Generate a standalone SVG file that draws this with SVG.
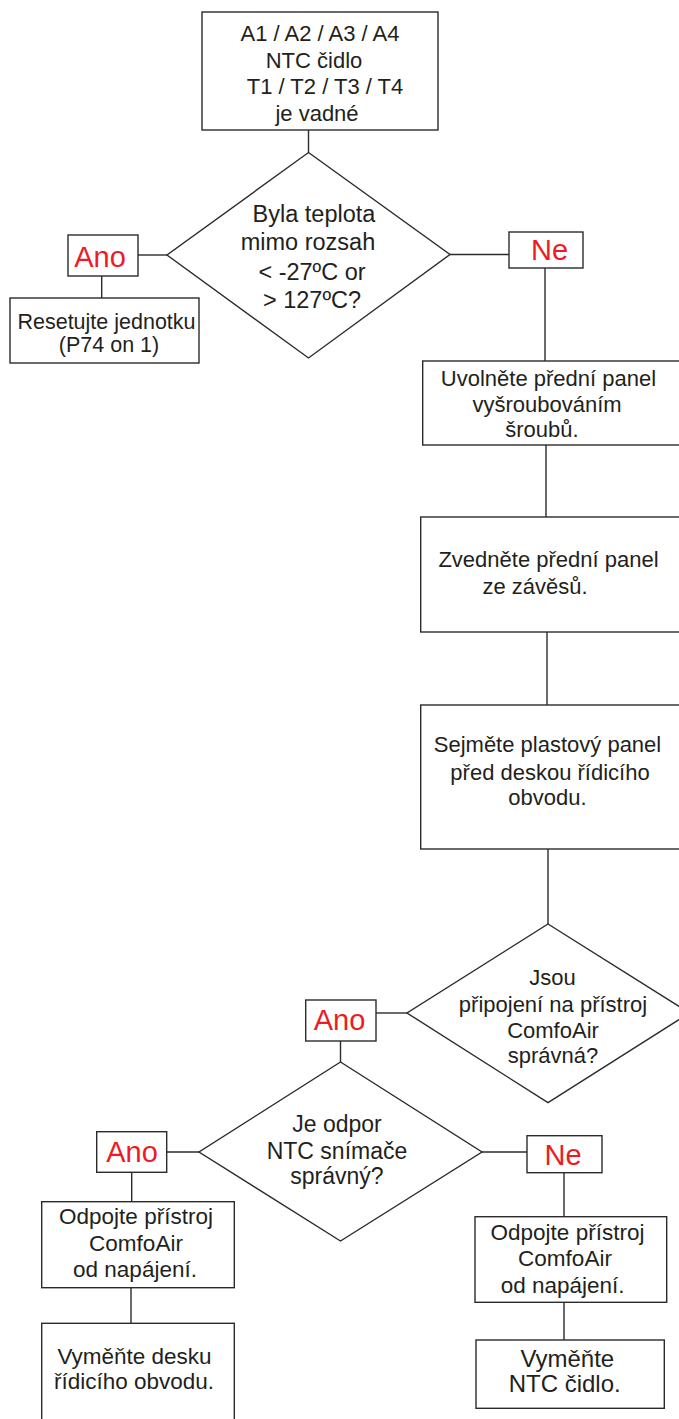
<svg xmlns="http://www.w3.org/2000/svg" width="679" height="1419" viewBox="0 0 679 1419">
<style>
.b{fill:#fff;stroke:#2b2b2b;stroke-width:1.4}
.c{fill:none;stroke:#2b2b2b;stroke-width:1.4}
.t{font-family:"Liberation Sans",Arial,Helvetica,sans-serif;font-size:22px;fill:#231f20;text-anchor:middle}
.r{font-family:"Liberation Sans",Arial,Helvetica,sans-serif;font-size:29px;fill:#ed1c24;text-anchor:middle}
</style>
<rect width="679" height="1419" fill="#fff"/>
<g id="connectors">
<path class="c" d="M308.5 130 V152.5"/>
<path class="c" d="M167 255 H138"/>
<path class="c" d="M101.7 276 V298"/>
<path class="c" d="M450 254.5 H509"/>
<path class="c" d="M545 268 V361"/>
<path class="c" d="M546 445 V517"/>
<path class="c" d="M547 632 V705"/>
<path class="c" d="M548 849 V924"/>
<path class="c" d="M407 1013 H376"/>
<path class="c" d="M340.5 1041 V1062"/>
<path class="c" d="M199 1152 H166.7"/>
<path class="c" d="M131.7 1172.3 V1201.7"/>
<path class="c" d="M131 1287.7 V1323.3"/>
<path class="c" d="M482 1152 H527"/>
<path class="c" d="M564 1172.7 V1216.7"/>
<path class="c" d="M564 1302.3 V1340"/>
</g>
<g id="start">
<rect class="b" x="202" y="12" width="236" height="118"/>
<text class="t" x="320" y="41">A1 / A2 / A3 / A4</text>
<text class="t" x="314" y="68">NTC čidlo</text>
<text class="t" x="325" y="94">T1 / T2 / T3 / T4</text>
<text class="t" x="317" y="121">je vadné</text>
</g>
<g id="d1">
<polygon class="b" points="308.5,152.5 450,254.5 308.5,358 167,255"/>
<text class="t" style="font-size:23.5px" x="314" y="222">Byla teplota</text>
<text class="t" style="font-size:23.5px" x="308" y="250">mimo rozsah</text>
<text class="t" style="font-size:23.5px" x="312" y="280">&lt; -27ºC or</text>
<text class="t" style="font-size:23.5px" x="312" y="308">&gt; 127ºC?</text>
</g>
<g id="ano1">
<rect class="b" x="68" y="235" width="70" height="41"/>
<text class="r" x="100" y="266.5">Ano</text>
</g>
<g id="reset">
<rect class="b" x="10" y="298" width="189" height="65"/>
<text class="t" style="font-size:21.5px" x="106.5" y="329">Resetujte jednotku</text>
<text class="t" style="font-size:21.5px" x="109" y="352">(P74 on 1)</text>
</g>
<g id="ne1">
<rect class="b" x="509" y="232" width="74" height="36"/>
<text class="r" x="549.5" y="259.5">Ne</text>
</g>
<g id="uvolnete">
<rect class="b" x="422.7" y="361" width="262" height="84"/>
<text class="t" x="548.5" y="386">Uvolněte přední panel</text>
<text class="t" x="547" y="412">vyšroubováním</text>
<text class="t" x="542" y="437">šroubů.</text>
</g>
<g id="zvednete">
<rect class="b" x="420.7" y="517" width="264" height="115"/>
<text class="t" x="548.5" y="567">Zvedněte přední panel</text>
<text class="t" x="535" y="594">ze závěsů.</text>
</g>
<g id="sejmete">
<rect class="b" x="420.7" y="705" width="264" height="144"/>
<text class="t" x="547.5" y="752">Sejměte plastový panel</text>
<text class="t" x="550" y="780">před deskou řídicího</text>
<text class="t" x="547.5" y="805">obvodu.</text>
</g>
<g id="d2">
<polygon class="b" points="548,924 689.5,1013 548,1102.7 407,1013"/>
<text class="t" x="552.5" y="985">Jsou</text>
<text class="t" x="553" y="1012">připojení na přístroj</text>
<text class="t" x="553" y="1038">ComfoAir</text>
<text class="t" x="553" y="1063">správná?</text>
</g>
<g id="ano2">
<rect class="b" x="305.7" y="1000" width="70.3" height="41"/>
<text class="r" x="339.5" y="1029.5">Ano</text>
</g>
<g id="d3">
<polygon class="b" points="340.5,1062 482,1152 340.5,1241 199,1152"/>
<text class="t" style="font-size:23px" x="337" y="1132">Je odpor</text>
<text class="t" style="font-size:23px" x="337" y="1159">NTC snímače</text>
<text class="t" style="font-size:23px" x="337" y="1184">správný?</text>
</g>
<g id="ano3">
<rect class="b" x="96.7" y="1131.7" width="70" height="40.6"/>
<text class="r" x="132" y="1162">Ano</text>
</g>
<g id="odpojteL">
<rect class="b" x="41.7" y="1201.7" width="192.6" height="86"/>
<text class="t" style="font-size:22.5px" x="136" y="1224">Odpojte přístroj</text>
<text class="t" style="font-size:22.5px" x="136" y="1251">ComfoAir</text>
<text class="t" style="font-size:22.5px" x="135" y="1277">od napájení.</text>
</g>
<g id="vymenteDesku">
<rect class="b" x="41.7" y="1323.3" width="192.6" height="110"/>
<text class="t" style="font-size:22.5px" x="134.5" y="1364">Vyměňte desku</text>
<text class="t" style="font-size:22.5px" x="134" y="1389">řídicího obvodu.</text>
</g>
<g id="ne3">
<rect class="b" x="527" y="1135.7" width="75" height="37"/>
<text class="r" x="563" y="1165">Ne</text>
</g>
<g id="odpojteR">
<rect class="b" x="475" y="1216.7" width="191.7" height="85.6"/>
<text class="t" style="font-size:22.5px" x="567.5" y="1240">Odpojte přístroj</text>
<text class="t" style="font-size:22.5px" x="565" y="1266">ComfoAir</text>
<text class="t" style="font-size:22.5px" x="562.7" y="1293">od napájení.</text>
</g>
<g id="vymenteNTC">
<rect class="b" x="476" y="1340" width="188.3" height="68.3"/>
<text class="t" style="font-size:24px" x="567.3" y="1367">Vyměňte</text>
<text class="t" style="font-size:24px" x="564.7" y="1392">NTC čidlo.</text>
</g>
</svg>
